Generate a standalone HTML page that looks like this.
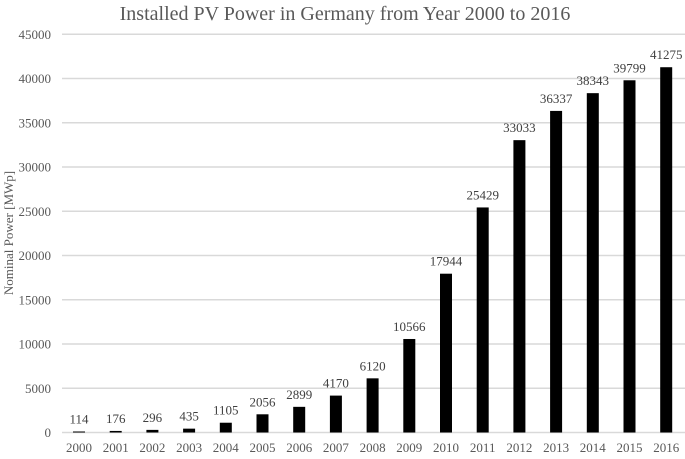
<!DOCTYPE html>
<html><head><meta charset="utf-8"><style>
html,body{margin:0;padding:0;background:#fff;}
</style></head><body>
<svg width="685" height="454" xmlns="http://www.w3.org/2000/svg" font-family="Liberation Serif, serif">
<text x="345" y="20" text-anchor="middle" font-size="20" fill="#595959">Installed PV Power in Germany from Year 2000 to 2016</text>
<g stroke="#d9d9d9" stroke-width="1.5">
<line x1="62" x2="685" y1="432.5" y2="432.5"/>
<line x1="62" x2="685" y1="388.25" y2="388.25"/>
<line x1="62" x2="685" y1="344" y2="344"/>
<line x1="62" x2="685" y1="299.75" y2="299.75"/>
<line x1="62" x2="685" y1="255.5" y2="255.5"/>
<line x1="62" x2="685" y1="211.25" y2="211.25"/>
<line x1="62" x2="685" y1="167" y2="167"/>
<line x1="62" x2="685" y1="122.75" y2="122.75"/>
<line x1="62" x2="685" y1="78.5" y2="78.5"/>
<line x1="62" x2="685" y1="34.25" y2="34.25"/>
</g>
<g font-size="13" fill="#595959" text-anchor="end">
<text x="51" y="437">0</text>
<text x="51" y="392.75">5000</text>
<text x="51" y="348.5">10000</text>
<text x="51" y="304.25">15000</text>
<text x="51" y="260">20000</text>
<text x="51" y="215.75">25000</text>
<text x="51" y="171.5">30000</text>
<text x="51" y="127.25">35000</text>
<text x="51" y="83">40000</text>
<text x="51" y="38.75">45000</text>
</g>
<text transform="translate(13,233) rotate(-90)" text-anchor="middle" font-size="13" fill="#595959">Nominal Power [MWp]</text>
<g fill="#000">
<rect x="73" y="431.49" width="12" height="1.01"/>
<rect x="109.7" y="430.94" width="12" height="1.56"/>
<rect x="146.4" y="429.88" width="12" height="2.62"/>
<rect x="183.1" y="428.65" width="12" height="3.85"/>
<rect x="219.8" y="422.72" width="12" height="9.78"/>
<rect x="256.5" y="414.3" width="12" height="18.2"/>
<rect x="293.2" y="406.84" width="12" height="25.66"/>
<rect x="329.9" y="395.6" width="12" height="36.9"/>
<rect x="366.6" y="378.34" width="12" height="54.16"/>
<rect x="403.3" y="338.99" width="12" height="93.51"/>
<rect x="440" y="273.7" width="12" height="158.8"/>
<rect x="476.7" y="207.45" width="12" height="225.05"/>
<rect x="513.4" y="140.16" width="12" height="292.34"/>
<rect x="550.1" y="110.92" width="12" height="321.58"/>
<rect x="586.8" y="93.16" width="12" height="339.34"/>
<rect x="623.5" y="80.28" width="12" height="352.22"/>
<rect x="660.2" y="67.22" width="12" height="365.28"/>
</g>
<g font-size="13" fill="#404040" text-anchor="middle">
<text x="79" y="423.5">114</text>
<text x="115.7" y="422.9">176</text>
<text x="152.4" y="421.9">296</text>
<text x="189.1" y="420.6">435</text>
<text x="225.8" y="414.7">1105</text>
<text x="262.5" y="406.3">2056</text>
<text x="299.2" y="398.8">2899</text>
<text x="335.9" y="387.6">4170</text>
<text x="372.6" y="370.3">6120</text>
<text x="409.3" y="331">10566</text>
<text x="446" y="265.7">17944</text>
<text x="482.7" y="199.4">25429</text>
<text x="519.4" y="132.2">33033</text>
<text x="556.1" y="102.9">36337</text>
<text x="592.8" y="85.2">38343</text>
<text x="629.5" y="72.3">39799</text>
<text x="666.2" y="59.2">41275</text>
</g>
<g font-size="13" fill="#595959" text-anchor="middle">
<text x="79" y="452">2000</text>
<text x="115.7" y="452">2001</text>
<text x="152.4" y="452">2002</text>
<text x="189.1" y="452">2003</text>
<text x="225.8" y="452">2004</text>
<text x="262.5" y="452">2005</text>
<text x="299.2" y="452">2006</text>
<text x="335.9" y="452">2007</text>
<text x="372.6" y="452">2008</text>
<text x="409.3" y="452">2009</text>
<text x="446" y="452">2010</text>
<text x="482.7" y="452">2011</text>
<text x="519.4" y="452">2012</text>
<text x="556.1" y="452">2013</text>
<text x="592.8" y="452">2014</text>
<text x="629.5" y="452">2015</text>
<text x="666.2" y="452">2016</text>
</g>
</svg>
</body></html>
